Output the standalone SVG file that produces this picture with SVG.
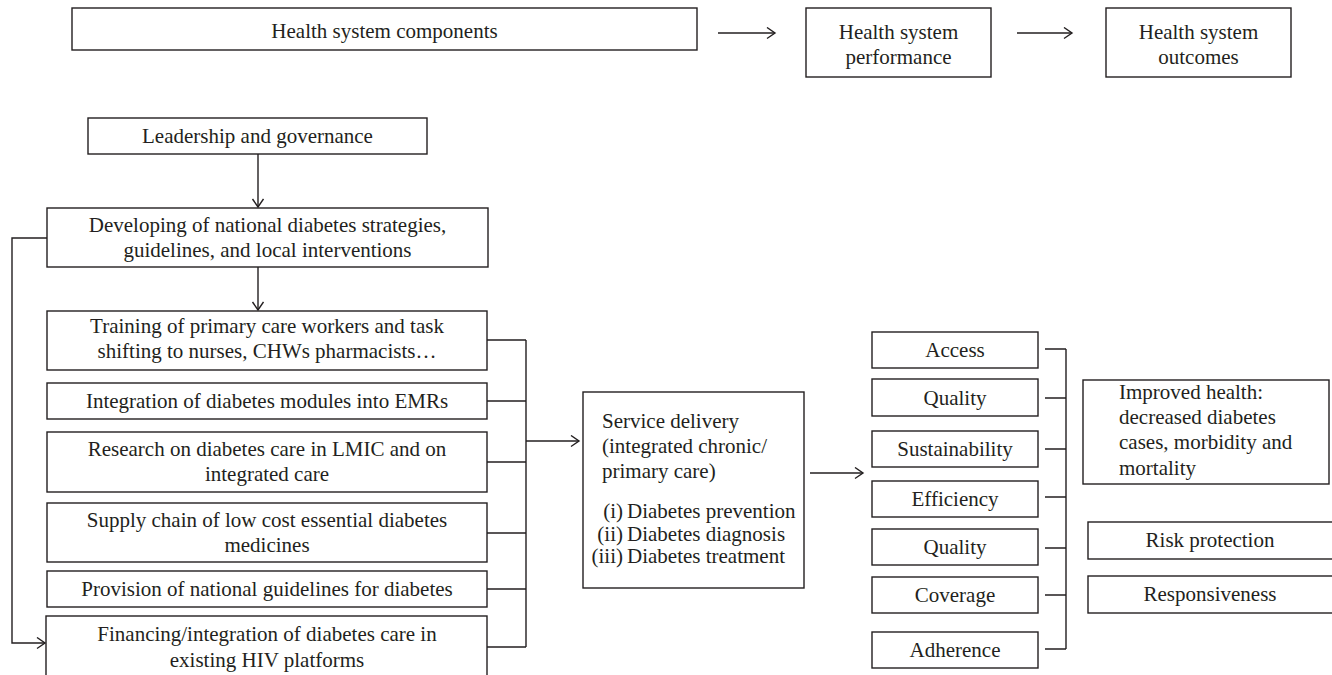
<svg xmlns="http://www.w3.org/2000/svg" width="1332" height="675" viewBox="0 0 1332 675">
<style>
.box{fill:#fff;stroke:#231f20;stroke-width:1.4}
.t{font-family:"Liberation Serif","Times New Roman",serif;font-size:21px;fill:#231f20}
.c{text-anchor:middle}
.e{text-anchor:end}
.ln{fill:none;stroke:#231f20;stroke-width:1.4}
</style>
<defs>
<marker id="ah" markerUnits="userSpaceOnUse" markerWidth="12" markerHeight="14" refX="9" refY="6" orient="auto">
<path d="M1,0.5 L9,6 L1,11.5" fill="none" stroke="#231f20" stroke-width="1.4"/>
</marker>
</defs>
<rect width="1332" height="675" fill="#fff"/>
<g id="connectors">
<line class="ln" x1="718" y1="33" x2="775" y2="33" marker-end="url(#ah)"/>
<line class="ln" x1="1017" y1="33" x2="1072" y2="33" marker-end="url(#ah)"/>
<line class="ln" x1="258" y1="154" x2="258" y2="207" marker-end="url(#ah)"/>
<line class="ln" x1="258" y1="267" x2="258" y2="310" marker-end="url(#ah)"/>
<polyline class="ln" points="47,238 12,238 12,643 45,643" marker-end="url(#ah)"/>
<path class="ln" d="M487,340 H526 M487,401 H526 M487,462 H526 M487,533 H526 M487,589 H526 M487,647 H526 M526,340 V647"/>
<line class="ln" x1="526" y1="441" x2="579" y2="441" marker-end="url(#ah)"/>
<line class="ln" x1="810" y1="473" x2="863" y2="473" marker-end="url(#ah)"/>
<path class="ln" d="M1045,349 H1066 M1045,398 H1066 M1045,449 H1066 M1045,497 H1066 M1045,548 H1066 M1045,595 H1066 M1045,649 H1066 M1066,349 V649"/>
</g>
<g id="components"><rect class="box" x="72" y="8" width="625" height="42"/><text class="t c" x="384.5" y="38">Health system components</text></g>
<g id="performance"><rect class="box" x="806" y="8" width="185" height="69"/><text class="t c" x="898.5" y="39">Health system</text><text class="t c" x="898.5" y="64">performance</text></g>
<g id="outcomes"><rect class="box" x="1106" y="8" width="185" height="69"/><text class="t c" x="1198.5" y="39">Health system</text><text class="t c" x="1198.5" y="64">outcomes</text></g>
<g id="leadership"><rect class="box" x="88" y="118" width="339" height="36"/><text class="t c" x="257.5" y="143">Leadership and governance</text></g>
<g id="developing"><rect class="box" x="47" y="208" width="441" height="59"/><text class="t c" x="267.5" y="232">Developing of national diabetes strategies,</text><text class="t c" x="267.5" y="257">guidelines, and local interventions</text></g>
<g id="training"><rect class="box" x="47" y="311" width="440" height="59"/><text class="t c" x="267" y="333">Training of primary care workers and task</text><text class="t c" x="267" y="358">shifting to nurses, CHWs pharmacists…</text></g>
<g id="emr"><rect class="box" x="47" y="383" width="440" height="36"/><text class="t c" x="267" y="408">Integration of diabetes modules into EMRs</text></g>
<g id="research"><rect class="box" x="47" y="432" width="440" height="60"/><text class="t c" x="267" y="456">Research on diabetes care in LMIC and on</text><text class="t c" x="267" y="481">integrated care</text></g>
<g id="supply"><rect class="box" x="47" y="503" width="440" height="59"/><text class="t c" x="267" y="527">Supply chain of low cost essential diabetes</text><text class="t c" x="267" y="552">medicines</text></g>
<g id="provision"><rect class="box" x="47" y="571" width="440" height="36"/><text class="t c" x="267" y="596">Provision of national guidelines for diabetes</text></g>
<g id="financing"><rect class="box" x="46" y="616" width="441" height="70"/><text class="t c" x="267" y="641">Financing/integration of diabetes care in</text><text class="t c" x="267" y="667">existing HIV platforms</text></g>
<g id="service"><rect class="box" x="583" y="392" width="221" height="196"/>
<text class="t" x="602" y="428">Service delivery</text>
<text class="t" x="602" y="453">(integrated chronic/</text>
<text class="t" x="602" y="478">primary care)</text>
<text class="t e" x="623" y="518">(i)</text><text class="t" x="627" y="518">Diabetes prevention</text>
<text class="t e" x="623" y="541">(ii)</text><text class="t" x="627" y="541">Diabetes diagnosis</text>
<text class="t e" x="623" y="563">(iii)</text><text class="t" x="627" y="563">Diabetes treatment</text>
</g>
<g id="access"><rect class="box" x="872" y="332" width="166" height="36"/><text class="t c" x="955" y="357">Access</text></g>
<g id="quality1"><rect class="box" x="872" y="379" width="166" height="37"/><text class="t c" x="955" y="405">Quality</text></g>
<g id="sustainability"><rect class="box" x="872" y="431" width="166" height="36"/><text class="t c" x="955" y="456">Sustainability</text></g>
<g id="efficiency"><rect class="box" x="872" y="481" width="166" height="36"/><text class="t c" x="955" y="506">Efficiency</text></g>
<g id="quality2"><rect class="box" x="872" y="529" width="166" height="36"/><text class="t c" x="955" y="554">Quality</text></g>
<g id="coverage"><rect class="box" x="872" y="577" width="166" height="36"/><text class="t c" x="955" y="602">Coverage</text></g>
<g id="adherence"><rect class="box" x="872" y="632" width="166" height="36"/><text class="t c" x="955" y="657">Adherence</text></g>
<g id="improved"><rect class="box" x="1083" y="380" width="246" height="104"/>
<text class="t" x="1119" y="399">Improved health:</text>
<text class="t" x="1119" y="424">decreased diabetes</text>
<text class="t" x="1119" y="449">cases, morbidity and</text>
<text class="t" x="1119" y="475">mortality</text></g>
<g id="risk"><rect class="box" x="1088" y="522" width="260" height="37"/><text class="t c" x="1210" y="547">Risk protection</text></g>
<g id="responsiveness"><rect class="box" x="1088" y="576" width="260" height="37"/><text class="t c" x="1210" y="601">Responsiveness</text></g>
</svg>
